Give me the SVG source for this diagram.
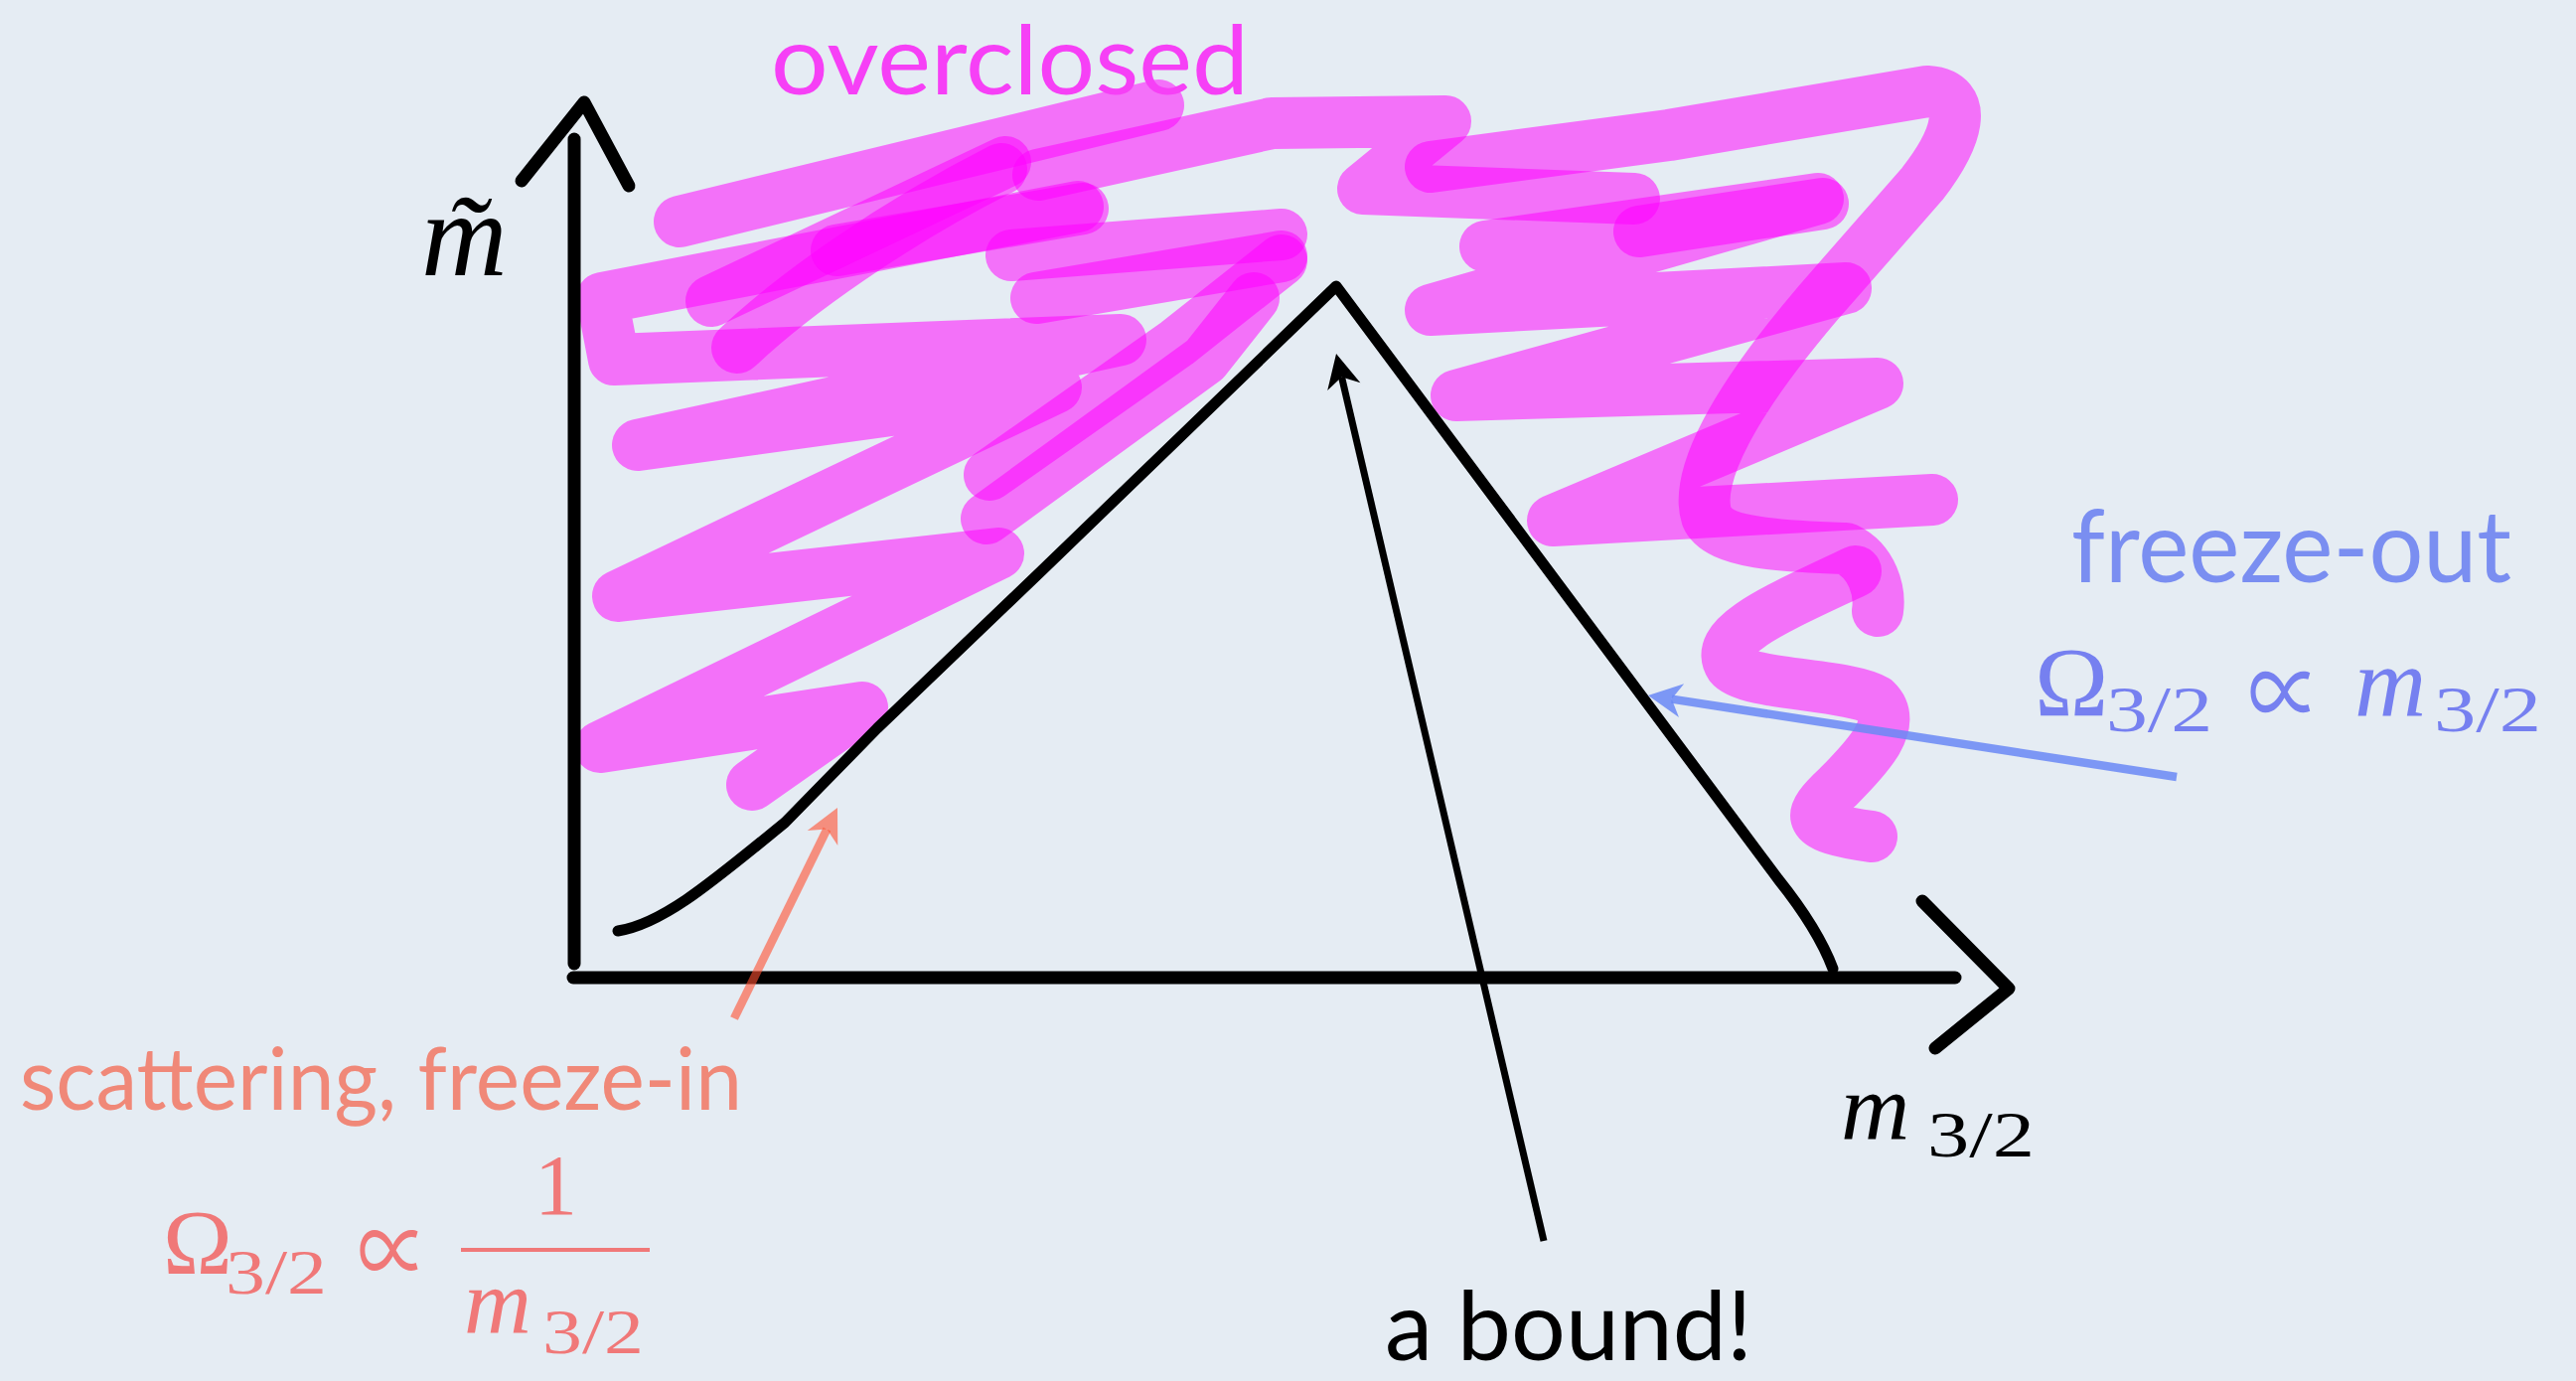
<svg xmlns="http://www.w3.org/2000/svg" width="2593" height="1390" viewBox="0 0 2593 1390">
<style>
.pink{fill:none;stroke:#ff00ff;stroke-opacity:0.52;stroke-width:52;stroke-linecap:round;stroke-linejoin:round}
.ink{fill:none;stroke:#000;stroke-linecap:round;stroke-linejoin:round}
.sans{font-family:Lato,"Open Sans","Liberation Sans",sans-serif}
.math{font-family:"Liberation Serif","DejaVu Serif",serif}
.prop{font-family:"Noto Sans CJK SC","DejaVu Serif",sans-serif}
.it{font-style:italic}
</style>
<defs>
<marker id="hBlack" markerUnits="userSpaceOnUse" viewBox="-12 -19 38 38" refX="0" refY="0" markerWidth="38" markerHeight="38" orient="auto"><path d="M24,0 L-10,-17 L0,0 L-10,17 Z" fill="#000"/></marker>
<marker id="hBlue" markerUnits="userSpaceOnUse" viewBox="-12 -19 38 38" refX="0" refY="0" markerWidth="38" markerHeight="38" orient="auto"><path d="M24,0 L-10,-17 L0,0 L-10,17 Z" fill="#6a88f5" fill-opacity="0.85"/></marker>
<marker id="hOrange" markerUnits="userSpaceOnUse" viewBox="-12 -19 38 38" refX="0" refY="0" markerWidth="38" markerHeight="38" orient="auto"><path d="M24,0 L-10,-17 L0,0 L-10,17 Z" fill="#ff5030" fill-opacity="0.6"/></marker>
</defs>
<rect width="2593" height="1390" fill="#e5ecf3"/>

<g id="overclosed-region">
<path class="pink" d="M684,223 L1166,106"/>
<path class="pink" d="M1085,208 L606,300 L618,362 L1128,342 L642,448 L1063,390 L622,600 L1005,557 L604,752 L868,712 L757,790"/>
<path class="pink" d="M742,350 C800,295 900,225 1008,170"/>
<path class="pink" d="M716,303 L1012,163"/>
<path class="pink" d="M842,252 L1090,210"/>
<path class="pink" d="M1045,176 L1280,124 L1455,122 L1372,190 L1645,200"/>
<path class="pink" d="M1018,257 L1290,236"/>
<path class="pink" d="M1043,300 L1290,258"/>
<path class="pink" d="M996,478 L1185,345 L1290,262"/>
<path class="pink" d="M993,522 L1213,362 L1262,300"/>
<path class="pink" d="M1440,168 L1680,136 L1940,92 C1985,95 1970,140 1935,185 L1830,305 C1745,405 1705,480 1718,520 C1730,548 1800,550 1858,552 C1885,565 1893,595 1890,615"/>
<path class="pink" d="M1868,575 C1790,612 1722,640 1742,670 C1758,690 1860,688 1888,705 C1912,728 1880,762 1850,792 C1818,822 1815,832 1884,842"/>
<path class="pink" d="M1495,248 L1830,200 L1440,312 L1858,290 L1466,398 L1890,386 L1563,524 L1945,503"/>
<path class="pink" d="M1650,233 L1835,205"/>
</g>

<g id="axes">
<path class="ink" stroke-width="13" d="M578,140 L578,970"/>
<path class="ink" stroke-width="13" d="M525,182 L588,103 L633,187"/>
<path class="ink" stroke-width="13" d="M577,984 L1968,984"/>
<path class="ink" stroke-width="13" d="M1935,907 L2022,995 L1948,1055"/>
</g>

<g id="bound-curve">
<path class="ink" stroke-width="11" d="M622,937 C668,930 720,885 790,828 L883,733 L1050,573 L1345,288 L1790,885 Q1830,935 1845,975"/>
</g>

<g id="connectors">
<line x1="1554" y1="1249" x2="1350.5" y2="379.4" stroke="#000" stroke-width="7" marker-end="url(#hBlack)"/>
<line x1="2191" y1="782" x2="1682.7" y2="703.6" stroke="#6a88f5" stroke-opacity="0.85" stroke-width="8.5" marker-end="url(#hBlue)"/>
<line x1="739" y1="1025" x2="832.4" y2="834.6" stroke="#ff5030" stroke-opacity="0.6" stroke-width="8.5" marker-end="url(#hOrange)"/>
</g>

<g id="label-overclosed"><text class="sans" x="776" y="95" font-size="96" fill="#f640f6" textLength="481" lengthAdjust="spacingAndGlyphs">overclosed</text></g>

<g id="label-y"><text class="math it" x="424" y="277" font-size="120" fill="#000">m̃</text></g>

<g id="label-x">
<text class="math it" x="1853" y="1147" font-size="96" fill="#000">m</text>
<text class="math" x="1940" y="1164" font-size="66" fill="#000" textLength="108" lengthAdjust="spacingAndGlyphs">3/2</text>
</g>

<g id="label-freeze-out">
<text class="sans" x="2085" y="586" font-size="100" fill="#7a8ef1" textLength="443" lengthAdjust="spacingAndGlyphs">freeze-out</text>
<text class="math" x="2048" y="720" font-size="100" fill="#7680f0">Ω</text>
<text class="math" x="2120" y="736" font-size="66" fill="#7680f0" textLength="107" lengthAdjust="spacingAndGlyphs">3/2</text>
<text class="prop" x="2263" y="736" font-size="104" fill="#7680f0" textLength="73" lengthAdjust="spacingAndGlyphs">∝</text>
<text class="math it" x="2370" y="720" font-size="100" fill="#7680f0">m</text>
<text class="math" x="2450" y="736" font-size="66" fill="#7680f0" textLength="108" lengthAdjust="spacingAndGlyphs">3/2</text>
</g>

<g id="label-freeze-in">
<text class="sans" x="20" y="1117" font-size="88" fill="#f08878" textLength="727" lengthAdjust="spacingAndGlyphs">scattering, freeze-in</text>
<text class="math" x="164" y="1282" font-size="94" fill="#f07878">Ω</text>
<text class="math" x="227" y="1302" font-size="64" fill="#f07878" textLength="102" lengthAdjust="spacingAndGlyphs">3/2</text>
<text class="prop" x="360" y="1296" font-size="100" fill="#f07878" textLength="71" lengthAdjust="spacingAndGlyphs">∝</text>
<line x1="464" y1="1258" x2="654" y2="1258" stroke="#f07878" stroke-width="4"/>
<text class="math" x="538" y="1222" font-size="86" fill="#f07878">1</text>
<text class="math it" x="467" y="1342" font-size="94" fill="#f07878">m</text>
<text class="math" x="546" y="1362" font-size="64" fill="#f07878" textLength="102" lengthAdjust="spacingAndGlyphs">3/2</text>
</g>

<g id="label-bound"><text class="sans" x="1394" y="1369" font-size="96" fill="#000" textLength="370" lengthAdjust="spacingAndGlyphs">a bound!</text></g>
</svg>
